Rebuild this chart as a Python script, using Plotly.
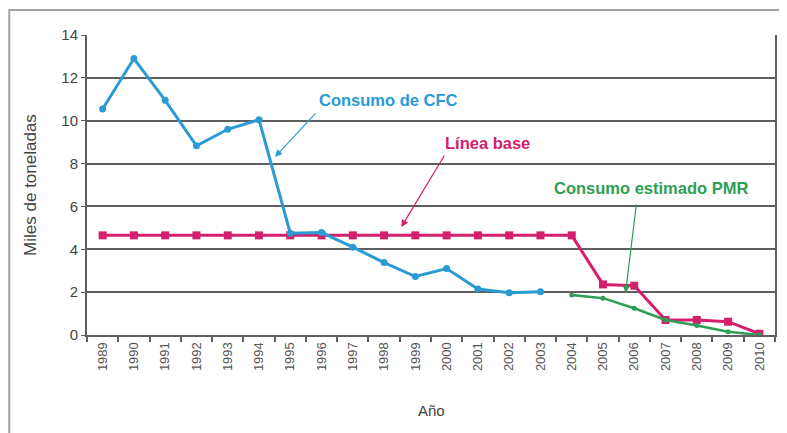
import plotly.graph_objects as go

years = [str(y) for y in range(1989, 2011)]

cfc_years = years[:15]  # 1989-2003
cfc_values = [10.55, 12.9, 10.95, 8.83, 9.6, 10.05, 4.75, 4.78, 4.1, 3.38, 2.73, 3.1, 2.15, 1.97, 2.02]

base_years = years  # 1989-2010
base_values = [4.65] * 16 + [2.36, 2.3, 0.7, 0.7, 0.62, 0.06]

pmr_years = years[15:]  # 2004-2010
pmr_values = [1.87, 1.72, 1.25, 0.7, 0.44, 0.15, 0.0]

y_ticks = [0, 2, 4, 6, 8, 10, 12, 14]

BLUE = "#2a9bd5"
MAGENTA = "#d4206c"
GREEN = "#2f9e55"
GRID = "#5f5f5f"
FONT = "Liberation Sans, Arial, sans-serif"

fig = go.Figure()

fig.add_trace(go.Scatter(
    x=base_years, y=base_values, mode="lines+markers",
    line=dict(color=MAGENTA, width=3),
    marker=dict(symbol="square", size=8, color=MAGENTA),
    showlegend=False, hoverinfo="skip"))

fig.add_trace(go.Scatter(
    x=pmr_years, y=pmr_values, mode="lines+markers",
    line=dict(color=GREEN, width=2.5),
    marker=dict(symbol="circle", size=5, color=GREEN),
    showlegend=False, hoverinfo="skip"))

fig.add_trace(go.Scatter(
    x=cfc_years, y=cfc_values, mode="lines+markers",
    line=dict(color=BLUE, width=3),
    marker=dict(symbol="circle", size=7, color=BLUE),
    showlegend=False, hoverinfo="skip"))

annotations = [
    # labels
    dict(x=9.14, y=10.97, xref="x", yref="y", text="<b>Consumo de CFC</b>",
         showarrow=False, font=dict(color=BLUE, size=16.5, family=FONT)),
    dict(x=12.32, y=8.96, xref="x", yref="y", text="<b>Línea base</b>",
         showarrow=False, font=dict(color=MAGENTA, size=16.5, family=FONT)),
    dict(x=17.52, y=6.86, xref="x", yref="y", text="<b>Consumo estimado PMR</b>",
         showarrow=False, font=dict(color=GREEN, size=16.5, family=FONT)),
    # arrows
    dict(x=5.51, y=8.31, xref="x", yref="y", text="", showarrow=True,
         ax=42, ay=-45, arrowhead=2, arrowsize=1.2, arrowwidth=1.2, arrowcolor=BLUE),
    dict(x=9.55, y=5.04, xref="x", yref="y", text="", showarrow=True,
         ax=44, ay=-73, arrowhead=2, arrowsize=1.2, arrowwidth=1.2, arrowcolor=MAGENTA),
    dict(x=16.72, y=1.96, xref="x", yref="y", text="", showarrow=True,
         ax=11, ay=-90, arrowhead=2, arrowsize=1.2, arrowwidth=1.2, arrowcolor=GREEN),
    # axis titles
    dict(x=-0.083, y=0.5, xref="paper", yref="paper", text="Miles de toneladas",
         xanchor="center", yanchor="middle",
         textangle=-90, showarrow=False, font=dict(color="#444", size=17, family=FONT)),
    dict(x=0.5, y=-0.25, xref="paper", yref="paper", text="Año",
         xanchor="center", yanchor="middle",
         showarrow=False, font=dict(color="#444", size=15, family=FONT)),
]

fig.update_layout(
    width=779, height=425,
    margin=dict(l=79, r=10, t=27, b=98),
    paper_bgcolor="white", plot_bgcolor="white",
    font=dict(family=FONT, color="#333"),
    annotations=annotations,
    shapes=[dict(type="rect", xref="paper", yref="paper",
                 x0=-0.113, x1=1.05, y0=-0.4, y1=1.083,
                 line=dict(color="#a0a0a0", width=2), layer="below")],
    xaxis=dict(type="category", categoryorder="array", categoryarray=years,
               tickson="boundaries", ticks="outside", ticklen=5, tickcolor=GRID,
               tickwidth=1.5, tickangle=-90, tickfont=dict(size=13, color="#555"),
               showline=True, linecolor=GRID, linewidth=2, showgrid=False,
               range=[-0.5, 21.5]),
    yaxis=dict(range=[0, 14], tickvals=y_ticks, ticks="outside", ticklen=4,
               tickcolor=GRID, showgrid=True, gridcolor=GRID, gridwidth=2,
               showline=True, mirror=True, linecolor=GRID, linewidth=2,
               zeroline=False, tickfont=dict(size=15, color="#444")),
)

fig.write_html("out.html")
